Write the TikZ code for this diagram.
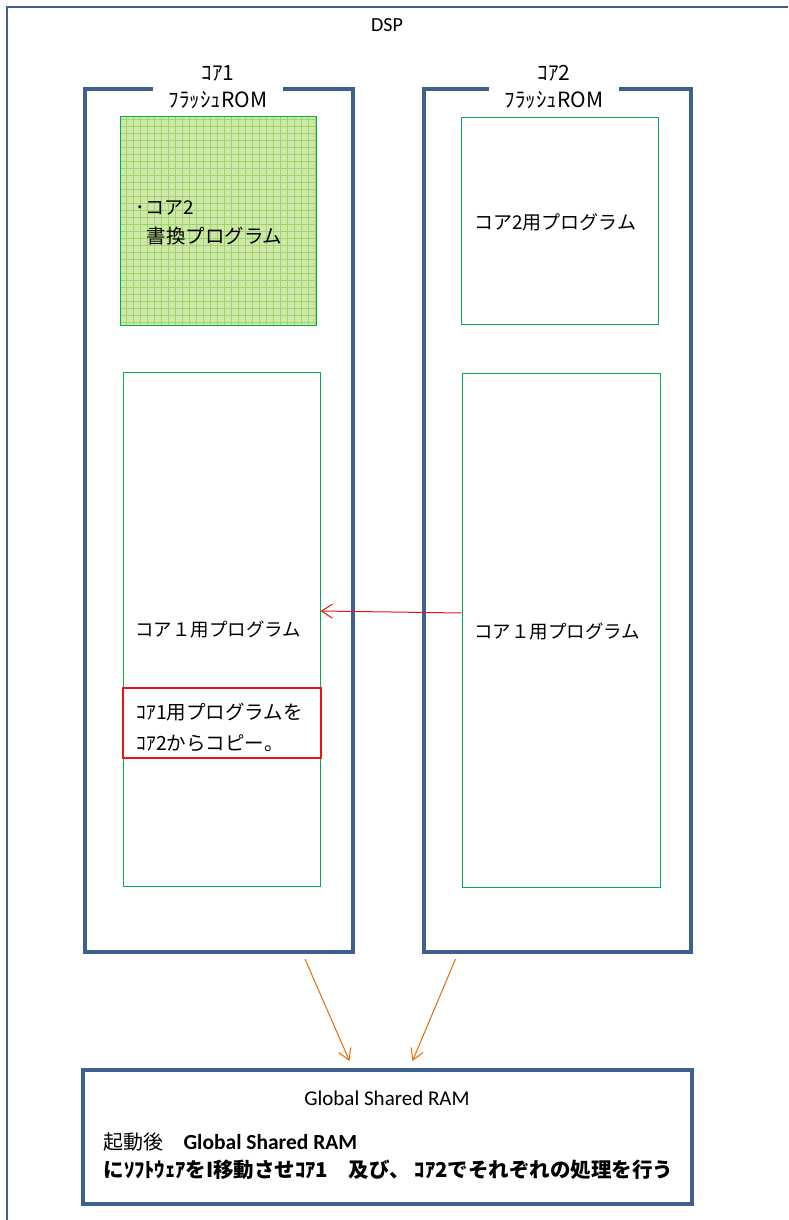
\documentclass[tikz,border=0pt]{standalone}
\usepackage{fontspec}
\setmainfont{Noto Sans CJK JP}
\newfontfamily\carl{Carlito}
\usetikzlibrary{arrows.meta}
\definecolor{frameblue}{RGB}{62,96,143}
\definecolor{boxgreen}{RGB}{0,176,80}
\definecolor{gridfill}{RGB}{207,231,172}
\definecolor{gridline}{RGB}{158,214,100}
\definecolor{copyred}{RGB}{235,20,20}
\definecolor{movorange}{RGB}{228,108,10}
\tikzset{
  corebox/.style={draw=frameblue, line width=4pt, rectangle, inner sep=0pt},
  progbox/.style={draw=boxgreen, line width=1pt, rectangle, inner sep=0pt},
  notebox/.style={draw=copyred, line width=1.2pt, rectangle, inner sep=0pt, fill=white},
  corelabel/.style={fill=white, inner sep=0pt, minimum width=130pt, align=center, font=\fontsize{21}{27}\selectfont},
  progtext/.style={font=\fontsize{18.5}{22}\selectfont},
  copyarrow/.style={draw=copyred, line width=1pt, -{Straight Barb[length=11pt,width=14pt]}},
  movearrow/.style={draw=movorange, line width=1pt, -{Straight Barb[length=11pt,width=13pt]}},
}
\begin{document}
\begin{tikzpicture}[x=1pt,y=-1pt]
\useasboundingbox (0,0) rectangle (788,1220);
\fill[white] (0,0) rectangle (788,1220);
% outer DSP frame
\draw[frameblue, line width=2.5pt] (7,1220) -- (7,7) -- (788,7);
\node[font=\carl\fontsize{20}{22}\selectfont] (dsp) at (387,25) {DSP};

% core boxes
\node[corebox, minimum width=268pt, minimum height=863pt] (core1) at (219,520.5) {};
\node[corebox, minimum width=267pt, minimum height=863pt] (core2) at (557.5,520.5) {};
\node[corelabel] (core1lab) at (218,87) {ｺｱ1\\ﾌﾗｯｼｭROM};
\node[corelabel] (core2lab) at (554,87) {ｺｱ2\\ﾌﾗｯｼｭROM};

% core 1 contents
\node[progbox, fill=gridfill, minimum width=196pt, minimum height=208pt] (lg1) at (218,221) {};
\draw[gridline, line width=0.45pt, step=7pt] (lg1.south west) grid (lg1.north east);
\node[progbox, minimum width=196pt, minimum height=208pt] (lg1b) at (218,221) {};
\node[anchor=west, align=left, font=\fontsize{19}{29}\selectfont] (lg1t) at (132,223) {･コア2\\\hspace{11pt}{\fontsize{19.5}{29}\selectfont 書換プログラム}};

\node[progbox, minimum width=197pt, minimum height=514pt] (lg2) at (221.5,629) {};
\node[progtext] (lg2t) at (218,630) {コア１用プログラム};

\node[notebox, minimum width=198pt, minimum height=70pt] (note) at (222,723) {};
\node[anchor=west, align=left, font=\fontsize{19.5}{31}\selectfont] (notet) at (133,727) {ｺｱ1用プログラムを\\ｺｱ2からコピー。};

% core 2 contents
\node[progbox, minimum width=197pt, minimum height=206pt] (rg1) at (559.5,221) {};
\node[font=\fontsize{19}{22}\selectfont] (rg1t) at (555,222) {コア2用プログラム};
\node[progbox, minimum width=198pt, minimum height=514pt] (rg2) at (561,630) {};
\node[progtext] (rg2t) at (557,632) {コア１用プログラム};

% copy arrow
\draw[copyarrow] ([yshift=17pt]rg2.west) -- ([yshift=18pt]lg2.east);

% RAM
\node[corebox, minimum width=609pt, minimum height=134pt] (ram) at (387.5,1137) {};
\node[font=\carl\fontsize{21}{24}\selectfont] (ramt) at (387,1098) {Global Shared RAM};
\node[anchor=west, font=\fontsize{20}{24}\selectfont] (raml1) at (100,1142) {起動後　{\carl\bfseries\fontsize{21.5}{24}\selectfont Global Shared RAM}};
\node[anchor=west, font=\bfseries\fontsize{20.5}{24}\selectfont] (raml2) at (100,1170) {にｿﾌﾄｳｪｱをI移動させｺｱ1　及び、 ｺｱ2でそれぞれの処理を行う};

% move arrows
\draw[movearrow] ([xshift=86pt,yshift=-5pt]core1.south) -- ([xshift=-38pt,yshift=7pt]ram.north);
\draw[movearrow] ([xshift=-102pt,yshift=-5pt]core2.south) -- ([xshift=25pt,yshift=7pt]ram.north);
\end{tikzpicture}
\end{document}
